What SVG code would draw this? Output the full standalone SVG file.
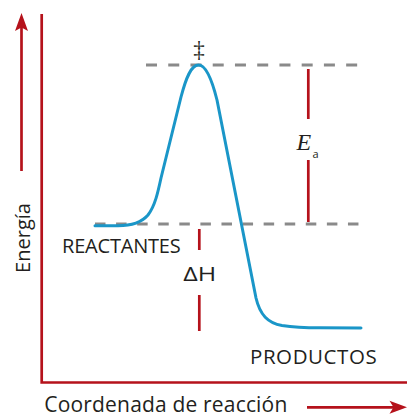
<svg xmlns="http://www.w3.org/2000/svg" width="407" height="417" viewBox="0 0 407 417">
  <style>
    .axis { stroke: #b5121b; stroke-width: 2.7; fill: none; }
    .red { stroke: #b5121b; stroke-width: 2.7; fill: none; }
    .dash { stroke: #8a8a8a; stroke-width: 3; fill: none; }
    .curve { stroke: #1a96c8; stroke-width: 3; fill: none; stroke-linejoin: round; stroke-linecap: round; }
    .head { fill: #b5121b; }
    .lbl { font-family: "Open Sans", "Noto Sans", sans-serif; fill: #231f20; }
  </style>
  <rect width="407" height="417" fill="#ffffff"/>

  <g id="axes">
    <path class="axis" d="M41.7,14 L41.7,382.5 L407,382.5"/>
  </g>

  <g id="energy-arrow">
    <line class="red" x1="21.5" y1="26" x2="21.5" y2="171"/>
    <path class="head" d="M21.5,13 L28,31 L21.5,27.5 L15,31 Z"/>
    <text class="lbl" font-size="20" transform="translate(30,238) rotate(-90)" text-anchor="middle">Energía</text>
  </g>

  <g id="reaction-arrow">
    <line class="red" x1="307" y1="407.3" x2="395" y2="407.3"/>
    <path class="head" d="M407,407.3 L389.5,400.8 L393.5,407.3 L389.5,413.8 Z"/>
    <text class="lbl" font-size="21" x="44.3" y="411.7" textLength="243">Coordenada de reacción</text>
  </g>

  <g id="dashed-lines">
    <line class="dash" x1="146" y1="65" x2="358" y2="65" stroke-dasharray="11 11.24"/>
    <line class="dash" x1="95" y1="224" x2="359.5" y2="224" stroke-dasharray="10.5 10.58"/>
  </g>

  <g id="curve">
    <path class="curve" d="M95,225.7 L118,225.7 C132,225.7 142,222 148,215 C155,206 158,192 161,178 L181,97 C186,78 191,65 198.5,65 C206,65 212,80 217,100 L256,298 C260,315 268,323 282,325.5 C295,327.5 305,327.8 320,327.8 L361,328"/>
  </g>

  <g id="transition-state">
    <text x="199" y="56.5" font-family="Liberation Serif, serif" font-size="23" fill="#231f20" text-anchor="middle">‡</text>
  </g>

  <g id="activation-energy">
    <line class="red" x1="308.3" y1="69" x2="308.3" y2="119"/>
    <line class="red" x1="308.3" y1="160" x2="308.3" y2="222"/>
    <text x="296.5" y="150" font-family="Liberation Serif, serif" font-style="italic" font-size="24" fill="#231f20">E</text>
    <text x="312.5" y="158" font-family="Open Sans, sans-serif" font-size="11" fill="#231f20">a</text>
  </g>

  <g id="enthalpy">
    <line class="red" x1="199.3" y1="229" x2="199.3" y2="250"/>
    <line class="red" x1="199.3" y1="295" x2="199.3" y2="331"/>
    <text class="lbl" font-size="20.5" x="183.3" y="281" textLength="33" lengthAdjust="spacingAndGlyphs">ΔH</text>
  </g>

  <g id="reactants">
    <text class="lbl" font-size="20" x="62" y="253.3" textLength="118.7">REACTANTES</text>
  </g>

  <g id="products">
    <text class="lbl" font-size="20.5" x="250" y="364" textLength="126.7">PRODUCTOS</text>
  </g>
</svg>
